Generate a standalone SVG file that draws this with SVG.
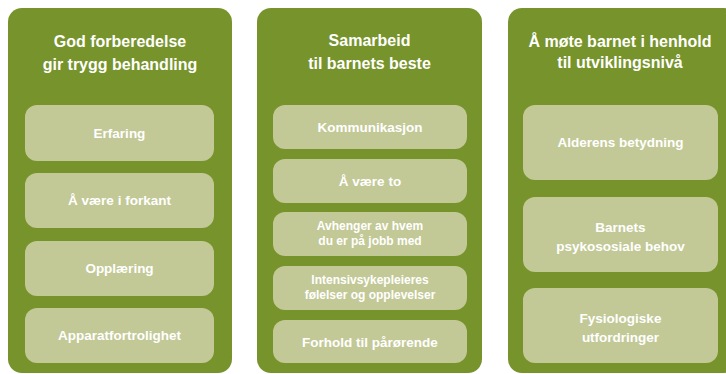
<svg xmlns="http://www.w3.org/2000/svg" width="726" height="374" viewBox="0 0 726 374">
<style>
.panel{fill:#77932B}
.box{fill:#C2C996}
text{font-family:"Liberation Sans",Arial,sans-serif;font-weight:bold;fill:#FFFFFF;text-anchor:middle}
.t{font-size:16px}
.b{font-size:13.5px}
.s{font-size:12px}
</style>
<rect width="726" height="374" fill="#FFFFFF"/>
<g id="col1">
<rect class="panel" x="8" y="8" width="224" height="365" rx="14"/>
<text class="t" x="120" y="46.5">God forberedelse</text>
<text class="t" x="120" y="69.5">gir trygg behandling</text>
</g>
<g id="erfaring"><rect class="box" x="25" y="105" width="189" height="56" rx="12"/><text class="b" x="119.5" y="137.5">Erfaring</text></g>
<g id="forkant"><rect class="box" x="25" y="173" width="189" height="55" rx="12"/><text class="b" x="119.5" y="205">Å være i forkant</text></g>
<g id="opplaering"><rect class="box" x="25" y="241" width="189" height="55" rx="12"/><text class="b" x="119.5" y="273">Opplæring</text></g>
<g id="apparat"><rect class="box" x="25" y="308" width="189" height="55" rx="12"/><text class="b" x="119.5" y="340">Apparatfortrolighet</text></g>

<g id="col2">
<rect class="panel" x="257" y="8" width="225" height="365" rx="14"/>
<text class="t" x="369.5" y="46">Samarbeid</text>
<text class="t" x="369.5" y="68.5">til barnets beste</text>
</g>
<g id="kommunikasjon"><rect class="box" x="273" y="105" width="194" height="44" rx="12"/><text class="b" x="370" y="131.5">Kommunikasjon</text></g>
<g id="vaere-to"><rect class="box" x="273" y="159" width="194" height="44" rx="12"/><text class="b" x="370" y="185.5">Å være to</text></g>
<g id="avhenger"><rect class="box" x="273" y="212" width="194" height="44" rx="12"/><text class="s" x="370" y="230">Avhenger av hvem</text><text class="s" x="370" y="244.5">du er på jobb med</text></g>
<g id="intensiv"><rect class="box" x="273" y="266" width="194" height="44" rx="12"/><text class="s" x="370" y="284">Intensivsykepleieres</text><text class="s" x="370" y="298.5">følelser og opplevelser</text></g>
<g id="forhold"><rect class="box" x="273" y="320" width="194" height="43" rx="12"/><text class="b" x="370" y="346.5">Forhold til pårørende</text></g>

<g id="col3">
<rect class="panel" x="508" y="8" width="230" height="365" rx="14"/>
<text class="t" x="620" y="46.5">Å møte barnet i henhold</text>
<text class="t" x="620" y="67.5">til utviklingsnivå</text>
</g>
<g id="alderens"><rect class="box" x="523" y="105" width="195" height="75" rx="12"/><text class="b" x="620.5" y="147">Alderens betydning</text></g>
<g id="psykososiale"><rect class="box" x="523" y="197" width="195" height="75" rx="12"/><text class="b" x="620.5" y="232">Barnets</text><text class="b" x="620.5" y="251">psykososiale behov</text></g>
<g id="fysiologiske"><rect class="box" x="523" y="288" width="195" height="75" rx="12"/><text class="b" x="620.5" y="323">Fysiologiske</text><text class="b" x="620.5" y="342">utfordringer</text></g>
</svg>
